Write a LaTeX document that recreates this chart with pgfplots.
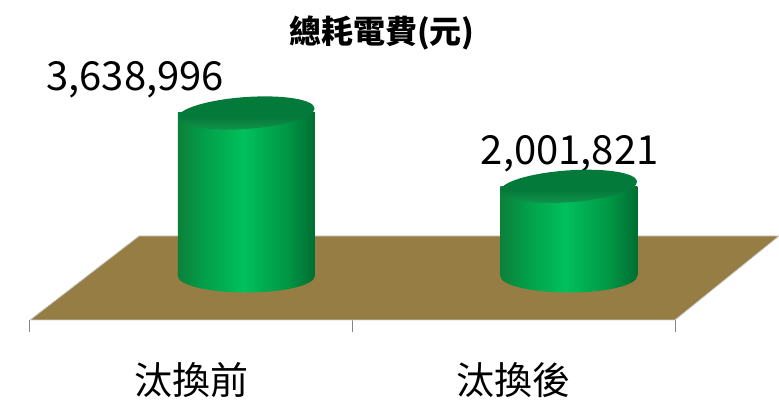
\documentclass[border=0pt]{standalone}
\usepackage{fontspec}
\setmainfont{Noto Sans CJK TC}
\usepackage{pgfplots}
\usepackage{pgfplotstable}
\pgfplotsset{compat=1.18}
\definecolor{floorc}{RGB}{150,125,68}
\definecolor{cylA}{RGB}{12,128,58}
\definecolor{cylB}{RGB}{2,160,74}
\definecolor{cylC}{RGB}{0,192,92}
\definecolor{cylD}{RGB}{0,150,68}
\definecolor{cylE}{RGB}{0,110,50}
\definecolor{topBack}{RGB}{4,122,58}
\definecolor{topFront}{RGB}{20,150,76}
\definecolor{axgray}{RGB}{134,134,134}
\pgfdeclarehorizontalshading{cylshade}{100bp}{color(0bp)=(cylA); color(25bp)=(cylA); color(35bp)=(cylB); color(49bp)=(cylC); color(65bp)=(cylD); color(75bp)=(cylE); color(100bp)=(cylE)}
\pgfdeclareverticalshading{topshade}{100bp}{color(0bp)=(topFront); color(25bp)=(topFront); color(45bp)=(topBack); color(100bp)=(topBack)}
\pgfdeclareplotmark{cyltop}{%
  \pgfpathellipse{\pgfpoint{55pt}{0pt}}{\pgfpoint{68.3pt}{4.8pt}}{\pgfpoint{-1.1pt}{15.9pt}}%
  \pgfshadepath{topshade}{0}%
  \pgfusepath{}%
}
\pgfdeclareplotmark{cylbot}{%
  \pgfpathmoveto{\pgfpoint{-13.5pt}{3pt}}%
  \pgfpathlineto{\pgfpoint{-13.5pt}{0pt}}%
  \pgfpatharc{180}{360}{68.5pt and 16.5pt}%
  \pgfpathlineto{\pgfpoint{123.5pt}{3pt}}%
  \pgfpathclose
  \pgfshadepath{cylshade}{0}%
  \pgfusepath{}%
}
\pgfplotstableread{
x base y dx lab
0 0 3638996 -56 3,638,996
1 0 2001821 56 2,001,821
}\datatable
\pgfplotsset{cylbar/.style={ybar, bar width=137pt, bar shift=55pt, draw=none, shade, shading=cylshade,
  point meta=explicit symbolic, nodes near coords,
  visualization depends on={\thisrow{dx} \as \dx},
  nodes near coords style={anchor=base, xshift=\dx pt, yshift=22pt, font=\fontsize{40}{46}\selectfont, text=black}}}
\begin{document}
\begin{tikzpicture}
\path[use as bounding box] (-30pt,-83pt) rectangle (749pt,320pt);
\begin{axis}[
  at={(0pt,0pt)}, anchor=south west,
  scale only axis, width=645pt, height=260pt,
  xmin=-0.5, xmax=1.5, ymin=-982305, ymax=4822256,
  clip=false,
  axis x line*=bottom, axis y line=none,
  x axis line style={axgray, line width=1pt, -},
  xtick={-0.5,0.5,1.5}, xticklabels={},
  tick align=outside, major tick length=12pt,
  tick style={axgray, line width=1pt},
  extra x ticks={0,1}, extra x tick labels={汰換前,汰換後},
  extra x tick style={major tick length=0pt,
    xticklabel style={anchor=center, yshift=-60pt, font=\fontsize{38}{44}\selectfont}},
  title={總耗電費(元)},
  title style={font=\bfseries\fontsize{32}{38}\selectfont, at={(0.5457,1)}, anchor=center, yshift=21pt},
]
\addplot[fill=floorc, draw=gray!40, line width=0.8pt] coordinates {(-0.5,-982305) (1.5,-982305) (1.8225,893005) (-0.162,893005) (-0.5,-982305)};
\addplot[only marks, mark=cylbot] table[x=x, y=base] \datatable;
\addplot[cylbar, skip coords between index={1}{2}] table[x=x, y=y, meta=lab] \datatable;
\addplot[cylbar, skip coords between index={0}{1}] table[x=x, y=y, meta=lab] \datatable;
\addplot[only marks, mark=cyltop] table[x=x, y=y] \datatable;
\end{axis}
\end{tikzpicture}
\end{document}
